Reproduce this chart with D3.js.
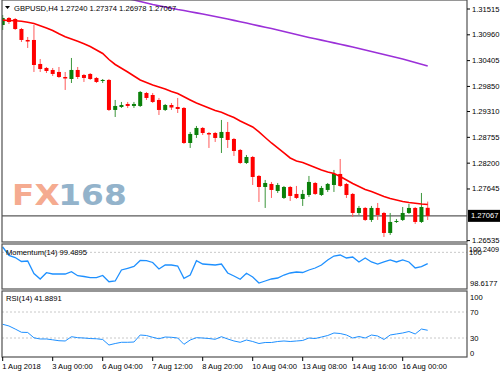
<!DOCTYPE html>
<html><head><meta charset="utf-8">
<script src="https://cdn.jsdelivr.net/npm/d3@7/dist/d3.min.js"></script>
<style>html,body{margin:0;padding:0;background:#fff;}svg{display:block;}</style>
</head><body>
<script>
// ---- data ----
const symbolTitle = "GBPUSD,H4";
const lastOHLC = ["1.27240", "1.27374", "1.26978", "1.27067"];
// candles: [open, high, low, close], H4 bars
const opens  = [1.31171,1.31322,1.31300,1.31085,1.30849,1.30849,1.30333,1.30247,1.30204,1.30161,1.30053,1.30010,1.30204,1.30096,1.30118,1.30032,1.29967,1.29989,1.29344,1.29408,1.29473,1.29430,1.29430,1.29709,1.29666,1.29559,1.29344,1.29451,1.29408,1.29387,1.28634,1.28806,1.28957,1.28849,1.28849,1.28742,1.28871,1.28720,1.28484,1.28204,1.28333,1.27925,1.27688,1.27753,1.27602,1.27452,1.27688,1.27538,1.27430,1.27516,1.27774,1.27516,1.27624,1.27731,1.27968,1.27753,1.27538,1.27129,1.27237,1.26979,1.27237,1.27129,1.26699,1.26936,1.26979,1.27129,1.27237,1.26936,1.27240];
const highs  = [1.31386,1.31343,1.31322,1.31107,1.30913,1.31171,1.30440,1.30268,1.30247,1.30268,1.30161,1.30462,1.30268,1.30118,1.30139,1.30053,1.30010,1.30010,1.29559,1.29516,1.29516,1.29516,1.29752,1.29731,1.29709,1.29602,1.29473,1.29494,1.29602,1.29408,1.28871,1.29000,1.28978,1.28871,1.28871,1.29129,1.29086,1.28742,1.28505,1.28376,1.28355,1.27946,1.27839,1.27796,1.27774,1.27710,1.27710,1.27710,1.27624,1.27925,1.27796,1.27710,1.27774,1.28054,1.28290,1.27774,1.27559,1.27280,1.27258,1.27280,1.27344,1.27151,1.27129,1.27000,1.27258,1.27323,1.27258,1.27559,1.27374];
const lows   = [1.31064,1.31193,1.31064,1.30806,1.30677,1.30161,1.30161,1.30139,1.30075,1.30032,1.29774,1.29924,1.30010,1.29946,1.29989,1.29924,1.29924,1.29322,1.29193,1.29387,1.29387,1.29387,1.29408,1.29559,1.29494,1.29236,1.29322,1.29344,1.29279,1.28613,1.28527,1.28742,1.28806,1.28527,1.28656,1.28419,1.28527,1.28355,1.28183,1.28183,1.27731,1.27366,1.27237,1.27452,1.27559,1.27430,1.27387,1.27430,1.27280,1.27473,1.27516,1.27495,1.27581,1.27581,1.27688,1.27452,1.27043,1.27086,1.26957,1.26936,1.26979,1.26613,1.26656,1.26914,1.26957,1.27108,1.26893,1.26914,1.26978];
const closes = [1.31322,1.31236,1.31085,1.30849,1.30816,1.30311,1.30225,1.30182,1.30118,1.30053,1.30021,1.30204,1.30053,1.30032,1.30010,1.29946,1.29989,1.29344,1.29430,1.29451,1.29430,1.29473,1.29731,1.29602,1.29516,1.29344,1.29451,1.29397,1.29365,1.28634,1.28828,1.28957,1.28849,1.28817,1.28742,1.28871,1.28699,1.28462,1.28204,1.28333,1.27903,1.27688,1.27774,1.27624,1.27731,1.27688,1.27495,1.27452,1.27538,1.27796,1.27538,1.27667,1.27753,1.27968,1.27710,1.27516,1.27129,1.27237,1.26979,1.27237,1.27086,1.26699,1.26936,1.26957,1.27129,1.27237,1.26936,1.27258,1.27067];
// red moving average (per bar)
const maFast = [1.31276,1.31268,1.31261,1.31251,1.31231,1.31203,1.31156,1.31107,1.31053,1.30982,1.30919,1.30870,1.30821,1.30769,1.30709,1.30634,1.30558,1.30429,1.30322,1.30242,1.30161,1.30075,1.29989,1.29935,1.29881,1.29838,1.29795,1.29741,1.29698,1.29627,1.29559,1.29494,1.29440,1.29387,1.29333,1.29294,1.29236,1.29182,1.29107,1.29043,1.28978,1.28871,1.28752,1.28634,1.28527,1.28419,1.28312,1.28247,1.28215,1.28161,1.28107,1.28054,1.28011,1.27978,1.27914,1.27839,1.27763,1.27699,1.27634,1.27591,1.27538,1.27484,1.27441,1.27409,1.27376,1.27355,1.27338,1.27323,1.27312];
// purple moving average (bars 20..68)
const maSlowStart = 20;
const maSlow = [1.31741,1.31709,1.31676,1.31644,1.31612,1.31586,1.31558,1.31532,1.31504,1.31481,1.31457,1.31431,1.31408,1.31382,1.31354,1.31328,1.31300,1.31270,1.31240,1.31212,1.31182,1.31152,1.31124,1.31094,1.31064,1.31031,1.30999,1.30967,1.30935,1.30904,1.30876,1.30846,1.30816,1.30786,1.30758,1.30728,1.30698,1.30666,1.30634,1.30601,1.30569,1.30537,1.30505,1.30472,1.30440,1.30403,1.30365,1.30328,1.30290];
const momentum = [100.2409,99.858,99.767,99.587,99.610,99.046,98.798,99.082,99.024,99.024,99.024,99.127,98.947,98.911,98.857,98.857,98.956,98.676,98.708,99.204,99.281,99.362,99.632,99.623,99.542,99.249,99.429,99.429,99.384,98.830,98.978,99.623,99.474,99.452,99.429,99.474,99.069,98.933,98.785,99.055,98.888,98.6177,98.708,98.798,98.843,98.978,99.069,99.114,99.091,99.204,99.294,99.429,99.655,99.835,99.880,99.745,99.790,99.565,99.745,99.565,99.474,99.565,99.655,99.565,99.655,99.565,99.294,99.353,99.4895];
const rsi = [51.1,48.5,43.8,38.8,38.5,30.3,28.5,28.5,27.2,25.8,25.4,32.0,30.5,30.0,29.2,28.8,27.7,19.2,21.5,23.4,23.4,23.8,34.6,33.8,31.1,28.8,31.5,31.1,30.0,20.3,26.9,30.5,30.0,29.2,28.0,32.0,28.5,25.4,23.4,26.9,24.6,21.5,23.1,23.1,24.6,25.4,24.6,25.4,26.2,30.0,29.2,31.5,33.8,37.7,36.9,34.6,30.0,32.3,30.0,34.6,33.1,27.7,34.6,36.2,37.7,40.0,36.2,43.8,41.8891];
const priceTicks = [1.31515,1.30960,1.30405,1.29850,1.29310,1.28755,1.28200,1.27645,1.26535];
const lastPrice = 1.27067;
const momTickLabels = ["100.2409","100","98.6177"];
const momTickValues = [100.2409,100,98.6177];
const momLevel = 100;
const rsiTicks = [100,70,30,0];
const rsiLevels = [70,30];
const timeLabels = ["1 Aug 2018","3 Aug 00:00","6 Aug 04:00","7 Aug 12:00","8 Aug 20:00","10 Aug 04:00","13 Aug 08:00","14 Aug 16:00","16 Aug 00:00"];
const timeLabelBars = [0,8,16,24,32,40,48,56,64];
const momName = "Momentum(14)";
const rsiName = "RSI(14)";

// ---- layout ----
const W = 500, H = 375;
const L = 2, R = 467;
const main = {top: 0, bottom: 242};
const mom = {top: 244, bottom: 289};
const rsiP = {top: 291, bottom: 357};
const font = "'Liberation Sans', Arial, sans-serif";
const fs = 7.6;

const svg = d3.select("body").append("svg").attr("width", W).attr("height", H);

const n = closes.length;
const x = d3.scaleLinear().domain([0, n - 1]).range([2.7, 2.7 + 6.25 * (n - 1)]);
const y = d3.scaleLinear().domain([1.26535, 1.31515]).range([240.6, 9]);
const ym = d3.scaleLinear().domain([98.6177, 100.2409]).range([283, 247]);
const yr = d3.scaleLinear().domain([0, 100]).range([357.5, 292.5]);

// clip paths
const defs = svg.append("defs");
[["cMain", main], ["cMom", mom], ["cRsi", rsiP]].forEach(([id, p]) => {
  defs.append("clipPath").attr("id", id).append("rect")
    .attr("x", L).attr("y", p.top).attr("width", R - L).attr("height", p.bottom - p.top);
});

// watermark
const wm = svg.append("g").attr("transform", "translate(12,205) scale(1.13,1)")
  .attr("font-family", "'DejaVu Sans', Arial, sans-serif").attr("font-weight", "bold").attr("font-size", 29);
wm.append("text").attr("x", 0).attr("y", 0).attr("fill", "#f5ab90").text("FX");
wm.append("text").attr("x", 41).attr("y", 0).attr("fill", "#93b3cb").text("168");

const gMain = svg.append("g").attr("clip-path", "url(#cMain)");

// last price line
gMain.append("line").attr("x1", L).attr("x2", R).attr("y1", y(lastPrice)).attr("y2", y(lastPrice))
  .attr("stroke", "#5a5a5a").attr("stroke-width", 1.3);

// candles
const bars = d3.range(n).map(i => ({i, o: opens[i], h: highs[i], l: lows[i], c: closes[i]}));
const cg = gMain.append("g").selectAll("g").data(bars).join("g");
cg.append("line")
  .attr("x1", d => x(d.i)).attr("x2", d => x(d.i))
  .attr("y1", d => y(d.h)).attr("y2", d => y(d.l))
  .attr("stroke", d => d.c >= d.o ? "#3c963c" : "#ff5a5a").attr("stroke-width", 1);
cg.append("rect")
  .attr("x", d => x(d.i) - 2).attr("width", 4)
  .attr("y", d => Math.min(y(d.o), y(d.c)))
  .attr("height", d => Math.max(1, Math.abs(y(d.o) - y(d.c))))
  .attr("fill", d => d.c >= d.o ? "#0a800a" : "#ff0000");

// moving averages
const line = d3.line().x(d => x(d[0])).y(d => y(d[1]));
gMain.append("path").datum(maFast.map((v, i) => [i, v]))
  .attr("d", line).attr("fill", "none").attr("stroke", "#ff0000").attr("stroke-width", 1.6);
gMain.append("path").datum(maSlow.map((v, i) => [i + maSlowStart, v]))
  .attr("d", line).attr("fill", "none").attr("stroke", "#9b30d8").attr("stroke-width", 1.6);

// momentum panel
const gMom = svg.append("g").attr("clip-path", "url(#cMom)");
gMom.append("line").attr("x1", L).attr("x2", R).attr("y1", ym(momLevel)).attr("y2", ym(momLevel))
  .attr("stroke", "#c8c8c8").attr("stroke-dasharray", "2,2");
gMom.append("path").datum(momentum.map((v, i) => [i, v]))
  .attr("d", d3.line().x(d => x(d[0])).y(d => ym(d[1])))
  .attr("fill", "none").attr("stroke", "#1e90ff").attr("stroke-width", 1.3);

// rsi panel
const gR = svg.append("g").attr("clip-path", "url(#cRsi)");
rsiLevels.forEach(v => gR.append("line").attr("x1", L).attr("x2", R).attr("y1", yr(v)).attr("y2", yr(v))
  .attr("stroke", "#c8c8c8").attr("stroke-dasharray", "2,2"));
gR.append("path").datum(rsi.map((v, i) => [i, v]))
  .attr("d", d3.line().x(d => x(d[0])).y(d => yr(d[1])))
  .attr("fill", "none").attr("stroke", "#1e90ff").attr("stroke-width", 1);

// frames
[main, mom, rsiP].forEach(p => {
  svg.append("rect").attr("x", L).attr("y", p.top).attr("width", R - L).attr("height", p.bottom - p.top)
    .attr("fill", "none").attr("stroke", "#505050").attr("stroke-width", 1.2);
});

// text
const txt = (g, xx, yy, s, opts = {}) => g.append("text").attr("x", xx).attr("y", yy)
  .attr("font-family", font).attr("font-size", opts.size || fs).attr("fill", opts.fill || "#000")
  .attr("dominant-baseline", opts.db || "auto").text(s);

// title
svg.append("path").attr("d", "M5,6 L10,6 L7.5,9 Z").attr("fill", "#000");
txt(svg, 14, 11, symbolTitle + "  " + lastOHLC.join(" "));

// price axis
const ax = svg.append("g");
priceTicks.forEach(v => {
  ax.append("line").attr("x1", R).attr("x2", R + 3).attr("y1", y(v)).attr("y2", y(v)).attr("stroke", "#000");
  txt(ax, 472, y(v), v.toFixed(5), {db: "central"});
});
ax.append("rect").attr("x", 468).attr("y", y(lastPrice) - 6).attr("width", 32).attr("height", 12).attr("fill", "#000");
txt(ax, 471, y(lastPrice), lastPrice.toFixed(5), {db: "central", fill: "#fff"});

// momentum axis & label
const momLabX = [469, 469, 470];
const momLabY = [249.5, 252.5, 283];
momTickLabels.forEach((s, k) => txt(ax, momLabX[k], momLabY[k], s, {db: "central", size: k === 0 ? 7.2 : fs}));
txt(svg, 6, 255, momName + " " + momentum[n - 1].toFixed(4));

// rsi axis & label
rsiTicks.forEach(v => {
  const yy = Math.max(rsiP.top + 6, Math.min(rsiP.bottom - 4, yr(v)));
  txt(ax, 470, yy, String(v), {db: "central"});
});
txt(svg, 6, 301, rsiName + " " + rsi[n - 1].toFixed(4));

// time axis
timeLabelBars.forEach((b, k) => {
  svg.append("line").attr("x1", x(b)).attr("x2", x(b)).attr("y1", rsiP.bottom).attr("y2", rsiP.bottom + 4).attr("stroke", "#000");
  txt(svg, x(b) - 0.5, 369, timeLabels[k]);
});
</script>
</body></html>
